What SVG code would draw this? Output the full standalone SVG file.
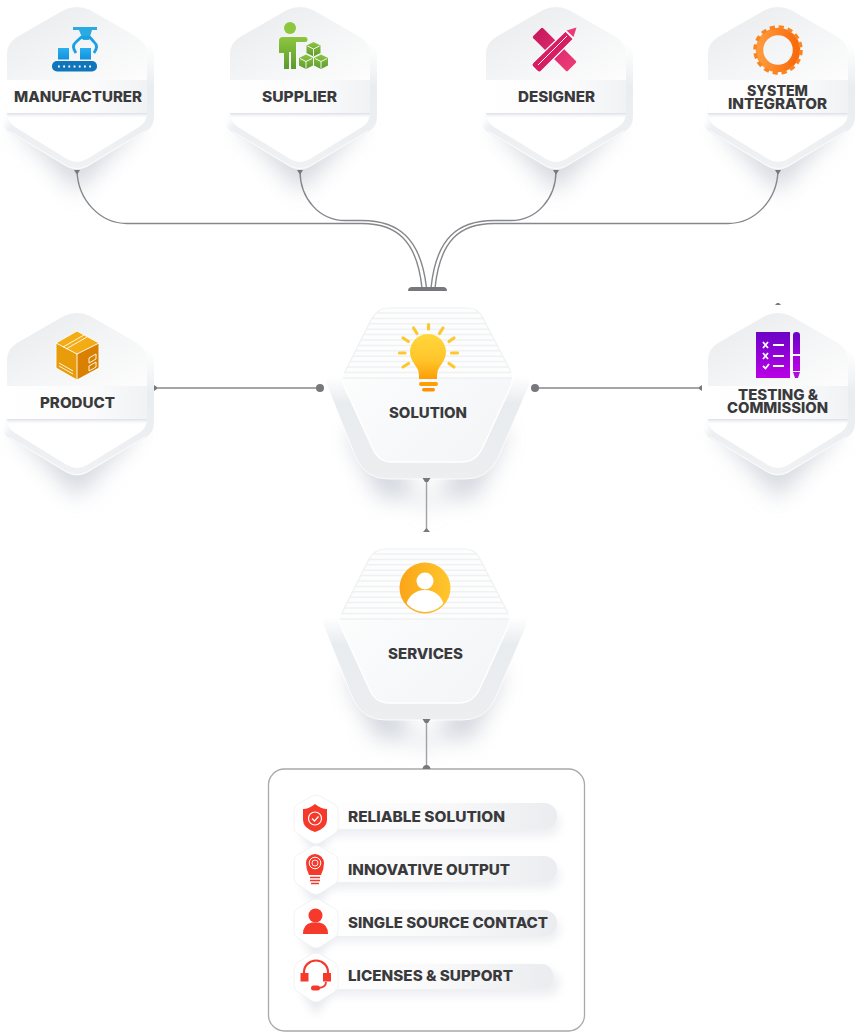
<svg xmlns="http://www.w3.org/2000/svg" xmlns:xlink="http://www.w3.org/1999/xlink" width="855" height="1032" viewBox="0 0 855 1032">
<style>
.t{font-family:"Inter","Liberation Sans",sans-serif;font-weight:800;font-size:14.3px;fill:#3a3a3c;text-anchor:start}
.c{fill:none;stroke:#85878a;stroke-width:1.4}
.d{fill:#77787b}
.red{fill:#f5392b}
.rl{fill:none;stroke:#f5392b}
.stripe{stroke:#f0f1f3;stroke-width:1.5}
</style>
<defs>
<filter id="b10" x="-50%" y="-50%" width="200%" height="200%"><feGaussianBlur stdDeviation="11"/></filter>
<filter id="b5" x="-50%" y="-50%" width="200%" height="200%"><feGaussianBlur stdDeviation="5"/></filter>
<filter id="b3" x="-100%" y="-100%" width="300%" height="300%"><feGaussianBlur stdDeviation="3"/></filter>
<linearGradient id="rim" x1="0" y1="0" x2="0" y2="1"><stop offset=".22" stop-color="#fff"/><stop offset=".5" stop-color="#eaedf0"/><stop offset="1" stop-color="#eff1f3"/></linearGradient>
<linearGradient id="rimB" x1="0" y1="0" x2="0" y2="1"><stop offset=".4" stop-color="#fff"/><stop offset=".56" stop-color="#e9ecef"/><stop offset="1" stop-color="#eceef0"/></linearGradient>
<linearGradient id="topf" x1="0" y1="0" x2="1" y2="1"><stop offset="0" stop-color="#e6e9eb"/><stop offset=".55" stop-color="#f4f5f6"/><stop offset="1" stop-color="#fdfdfd"/></linearGradient>
<linearGradient id="band" x1="0" y1="0" x2="1" y2="0"><stop offset="0" stop-color="#fff"/><stop offset=".6" stop-color="#fbfbfc"/><stop offset="1" stop-color="#f0f2f4"/></linearGradient>
<linearGradient id="under" x1="0" y1="0" x2="0" y2="1"><stop offset="0" stop-color="#dcdee6"/><stop offset="1" stop-color="#fff" stop-opacity="0"/></linearGradient>
<linearGradient id="face" x1="0" y1="0" x2="1" y2="1"><stop offset="0" stop-color="#fff"/><stop offset="1" stop-color="#f2f4f6"/></linearGradient>
<linearGradient id="bar" x1="0" y1="0" x2="1" y2="0"><stop offset="0" stop-color="#fff"/><stop offset=".5" stop-color="#f9f9fa"/><stop offset="1" stop-color="#eaecef"/></linearGradient>
<linearGradient id="blue" x1="0" y1="0" x2="0" y2="1"><stop offset="0" stop-color="#29b0f0"/><stop offset="1" stop-color="#1590dc"/></linearGradient>
<linearGradient id="green" x1="0" y1="0" x2="0" y2="1"><stop offset="0" stop-color="#8dc63f"/><stop offset="1" stop-color="#5c9a2f"/></linearGradient>
<linearGradient id="pink" x1="0" y1="0" x2="1" y2="0"><stop offset="0" stop-color="#c9195f"/><stop offset="1" stop-color="#ec3a78"/></linearGradient>
<linearGradient id="org" x1="0" y1="0" x2="1" y2="0"><stop offset="0" stop-color="#ff9a3c"/><stop offset="1" stop-color="#f96a0c"/></linearGradient>
<linearGradient id="purp" x1="0" y1="0" x2="0" y2="1"><stop offset="0" stop-color="#6a04c6"/><stop offset="1" stop-color="#bb00e6"/></linearGradient>
<linearGradient id="bulb" x1="0" y1="0" x2="0" y2="1"><stop offset="0" stop-color="#ffd83c"/><stop offset=".6" stop-color="#ffc42a"/><stop offset="1" stop-color="#ff9d05"/></linearGradient>
<linearGradient id="svc" x1="0" y1="0" x2="1" y2="0"><stop offset="0" stop-color="#fba518"/><stop offset="1" stop-color="#ffc62c"/></linearGradient>
<clipPath id="hexClip"><path d="M-13,10 Q0,4 13,10 L60,37 Q70,43 70,54 L70,113 Q70,122 62,127 L10,159 Q0,165 -10,159 L-62,127 Q-70,122 -70,113 L-70,54 Q-70,43 -60,37 Z"/></clipPath>
<clipPath id="bigClip"><path d="M388,308 L468,308 Q478,308 483,318 L511,372 Q514,380 510,388 L483,447 Q476,462 462,462 L392,462 Q378,462 372,447 L345,388 Q341,380 344,372 L372,318 Q378,308 388,308 Z"/></clipPath>
<clipPath id="svcClip"><circle cx="425" cy="588" r="24"/></clipPath>
<g id="hexS">
<path d="M-60,128 L0,192 L60,128 L50,110 L-50,110 Z" fill="#c3c8d2" opacity=".7" filter="url(#b10)"/>
<path d="M0,7 L69,42 Q77,47 77,56 L77,117 Q77,127 68,132 L10,167 Q0,172 -10,167 L-67,133 Q-75,128 -75,120 L-70,108 L-70,50 Z" fill="url(#rim)"/>
<ellipse cx="-76" cy="115" rx="9" ry="14" fill="#fff" filter="url(#b3)"/>
<g clip-path="url(#hexClip)">
<rect x="-70" y="5" width="140" height="75" fill="url(#topf)"/>
<rect x="-70" y="80" width="140" height="33" fill="url(#band)"/>
<rect x="-70" y="113" width="140" height="55" fill="#fff"/>
<rect x="-70" y="113" width="140" height="6" fill="url(#under)"/>
</g>
<path d="M-68,131 L-10,166 Q0,171 10,166 L68,131" fill="none" stroke="#fff" stroke-width=".8"/>
</g>
<g id="hexB">
<path d="M365,410 L428,512 L490,410 L505,440 L475,498 L380,498 L350,440 Z" fill="#c3c8d2" opacity=".75" filter="url(#b10)"/>
<path d="M384,307 L472,307 Q483,307 490,318 L527,372 Q532,380 528,388 L498,458 Q488,479 466,479 L388,479 Q366,479 356,458 L328,388 Q324,380 328,372 L365,318 Q372,307 384,307 Z" fill="url(#rimB)" stroke="#fff" stroke-width=".8"/>
<path d="M388,308 L468,308 Q478,308 483,318 L511,372 Q514,380 510,388 L483,447 Q476,462 462,462 L392,462 Q378,462 372,447 L345,388 Q341,380 344,372 L372,318 Q378,308 388,308 Z" fill="url(#face)" stroke="#fff" stroke-width="1.4"/>
<g clip-path="url(#bigClip)">
<rect x="340" y="308" width="180" height="70" fill="#fdfdfd"/>
<path class="stripe" d="M340,313H520M340,318.400H520M340,323.800H520M340,329.200H520M340,334.600H520M340,340H520M340,345.400H520M340,350.800H520M340,356.200H520M340,361.600H520M340,367H520M340,372.400H520M340,378H520"/>
</g>
<path d="M345,372 L372,318 Q378,308 388,308 L468,308 Q478,308 483,318 L511,372" fill="none" stroke="#eef0f2" stroke-width="1.2"/>
</g>
<g id="hexM">
<path d="M-16,12 L0,38 L18,12 Z" fill="#c9cdd6" opacity=".45" filter="url(#b5)"/>
<path d="M-4,-23 Q0,-25 4,-23 L18,-15 Q22,-13 22,-8 L22,9 Q22,13 18,15 L4,24 Q0,26 -4,24 L-18,15 Q-22,13 -22,9 L-22,-8 Q-22,-13 -18,-15 Z" fill="#fff" stroke="#f2f3f5" stroke-width="1"/>
</g>
<g id="cube"><path d="M0,-7 L7,-3.500 L7,4 L0,7.500 L-7,4 L-7,-3.500 Z" fill="url(#green)"/><path d="M-6,-3 L0,0 L6,-3 M0,0 L0,7" fill="none" stroke="#fff" stroke-width=".9"/></g>
</defs>

<g id="panel-box"><rect x="268.500" y="769" width="316" height="262" rx="16" fill="#fff" stroke="#a7a9ac" stroke-width="1.3"/></g>

<g id="node-manufacturer">
<use xlink:href="#hexS" href="#hexS" x="77"/>
<rect x="73" y="27" width="24" height="3" fill="#29abe2"/>
<path d="M79,30 H92 L89,40 H83 Z" fill="#29abe2"/>
<path d="M76,53 Q71,46 76,42 L81,37.500 H90 L94,42 Q99,46 94,53" fill="none" stroke="#1c9fe5" stroke-width="2.800"/>
<rect x="58" y="48" width="11" height="11.500" fill="url(#blue)"/><rect x="80" y="48" width="11" height="11.500" fill="url(#blue)"/>
<rect x="52" y="61" width="45" height="10.500" rx="5" fill="#0f76bc"/>
<path d="M58,66.500H92" stroke="#fff" stroke-width="1.800" stroke-dasharray="1.800 3.400"/>
<text class="t" x="14" y="102" textLength="128" lengthAdjust="spacingAndGlyphs">MANUFACTURER</text>
</g>
<g id="node-supplier">
<use xlink:href="#hexS" href="#hexS" x="300"/>
<circle cx="290" cy="28" r="6" fill="#8dc63f"/>
<path d="M283,37 H305 Q307.500,37 307.500,39.500 Q307.500,42 305,42 H296 V69 H291 V52 H289 V69 H284 V53 H279 V41 Q279,37 283,37 Z" fill="url(#green)"/>
<use xlink:href="#cube" href="#cube" x="313.500" y="49"/><use xlink:href="#cube" href="#cube" x="306" y="61.500"/><use xlink:href="#cube" href="#cube" x="321" y="61.500"/>
<text class="t" x="262" y="102" textLength="75" lengthAdjust="spacingAndGlyphs">SUPPLIER</text>
</g>
<g id="node-designer">
<use xlink:href="#hexS" href="#hexS" x="556"/>
<rect x="530" y="42.500" width="49" height="14" rx="1.500" transform="rotate(45 554.500 49.500)" fill="url(#pink)"/>
<path d="M576.500,27.500 L573.500,37 L566.500,30.500 Z" fill="#ec3a78"/>
<path d="M565.500,31 L573.500,39 L541,71.500 Q539,73 537,71 L532.500,66.500 Q531,64.500 533,62.500 Z" fill="#d81e63" stroke="#fff" stroke-width="1.200"/>
<path d="M538,65 L567,36" stroke="#fff" stroke-width="1"/>
<text class="t" x="518" y="102" textLength="77" lengthAdjust="spacingAndGlyphs">DESIGNER</text>
</g>
<g id="node-system-integrator">
<use xlink:href="#hexS" href="#hexS" x="778"/>
<circle cx="778" cy="50" r="18.500" fill="none" stroke="url(#org)" stroke-width="7.500"/>
<circle cx="778" cy="50" r="23" fill="none" stroke="#f98522" stroke-width="3.500" stroke-dasharray="5.200 3.832"/>
<text class="t" x="747" y="96" textLength="61" lengthAdjust="spacingAndGlyphs">SYSTEM</text>
<text class="t" x="728" y="109" textLength="99" lengthAdjust="spacingAndGlyphs">INTEGRATOR</text>
</g>
<g id="node-product">
<use xlink:href="#hexS" href="#hexS" x="77" y="306"/>
<path d="M77,331 L99,343 L77,354 L56,343 Z" fill="#f4ac14"/>
<path d="M56,343 L77,354 V380 L56,368 Z" fill="#e89c0a"/>
<path d="M99,343 L77,354 V380 L99,368 Z" fill="#d98000"/>
<path d="M77,331 L99,343 L99,368 L77,380 L56,368 L56,343 Z M56,343 L77,354 L99,343 M77,354 V380" fill="none" stroke="#fff" stroke-width=".9"/>
<path d="M63,347 L84,335 M66,349 L87,337 M59,363 L73,371 M59,366 L73,374" fill="none" stroke="#fff" stroke-width=".9"/>
<path d="M89,358 L96,354 V359 L89,363 Z M89,366 L96,362 V367 L89,371 Z" fill="none" stroke="#fff" stroke-width=".9"/>
<text class="t" x="40" y="408" textLength="75" lengthAdjust="spacingAndGlyphs">PRODUCT</text>
</g>
<g id="node-testing-commission">
<use xlink:href="#hexS" href="#hexS" x="778" y="306"/>
<rect x="756" y="332" width="34" height="46" fill="url(#purp)"/>
<path d="M763,342 L768,348 M768,342 L763,348 M763,353 L768,359 M768,353 L763,359 M763,366 L765.500,368.500 L769,364" fill="none" stroke="#fff" stroke-width="1.800"/>
<path d="M773,345H784M773,356H784M773,366H784" stroke="#fff" stroke-width="1.800"/>
<path d="M793,335 Q793,332 796.500,332 Q800,332 800,335 V354 H793 Z M793,356 H800 V371 H793 Z" fill="url(#purp)"/>
<path d="M793,372 H800 L798,378 H795 Z" fill="#a90fd8"/>
<text class="t" x="738" y="400" textLength="80" lengthAdjust="spacingAndGlyphs">TESTING &amp;</text>
<text class="t" x="727" y="412.500" textLength="101" lengthAdjust="spacingAndGlyphs">COMMISSION</text>
</g>
<g id="node-solution">
<use xlink:href="#hexB" href="#hexB"/>
<path d="M428,334 C418,334 410,342 410,352 C410,359 414,363 417,368 C419,371 419,375 419,379 H437 C437,375 437,371 439,368 C442,363 446,359 446,352 C446,342 438,334 428,334 Z" fill="url(#bulb)"/>
<rect x="419" y="382" width="19" height="4" rx="2" fill="#ff9d05"/><rect x="422" y="388" width="13" height="3.500" rx="1.700" fill="#ff9100"/>
<path d="M428.500,324.500V329M413.500,328L417,333.500M443,328L439.500,333.500M403,338L408.500,341.500M454,338L449,341.500M399.500,353H405M451.500,353H457.500M403,367L408.500,363.500M454,367L449,363.500" stroke="#fdc82f" stroke-width="3.200" stroke-linecap="round" fill="none"/>
<text class="t" x="389" y="418" textLength="78" lengthAdjust="spacingAndGlyphs">SOLUTION</text>
</g>
<g id="node-services">
<use xlink:href="#hexB" href="#hexB" x="-3" y="241"/>
<circle cx="425" cy="588" r="25.500" fill="url(#svc)"/>
<g clip-path="url(#svcClip)"><circle cx="425" cy="581" r="8.500" fill="#fff"/><ellipse cx="425" cy="608" rx="19" ry="18" fill="#fff"/></g>
<text class="t" x="388" y="659" textLength="75" lengthAdjust="spacingAndGlyphs">SERVICES</text>
</g>

<g id="item-reliable">
<rect x="320" y="810" width="240" height="26" rx="13" fill="#d4d7de" opacity=".4" filter="url(#b5)"/>
<path d="M316,803 H544 A13,13 0 0 1 544,829 H316 Z" fill="url(#bar)"/>
<use xlink:href="#hexM" href="#hexM" x="316" y="819"/>
<path d="M315,804 Q321,809 327,809 V820 Q327,828 315,832 Q303,828 303,820 V809 Q309,809 315,804 Z" class="red"/>
<circle cx="315" cy="818.500" r="6.500" fill="none" stroke="#fff" stroke-width="1.200"/>
<path d="M312,818.500 L314.500,821 L318.500,816.500" fill="none" stroke="#fff" stroke-width="1.300"/>
<text class="t" x="348" y="822" textLength="157" lengthAdjust="spacingAndGlyphs">RELIABLE SOLUTION</text>
</g>
<g id="item-innovative">
<rect x="320" y="863" width="240" height="26" rx="13" fill="#d4d7de" opacity=".4" filter="url(#b5)"/>
<path d="M316,856 H544 A13,13 0 0 1 544,882 H316 Z" fill="url(#bar)"/>
<use xlink:href="#hexM" href="#hexM" x="316" y="869.500"/>
<path d="M309,875 Q306,869 306,863 A9,9 0 1 1 324,863 Q324,869 321,875 Z" class="red"/>
<circle cx="315" cy="863" r="5.800" fill="none" stroke="#fff" stroke-width="1"/><circle cx="315" cy="863" r="3" fill="none" stroke="#fff" stroke-width=".9"/>
<path d="M310,877.500H320M310,880.500H320M311,883.500H319" stroke="#f5392b" stroke-width="1.500"/>
<text class="t" x="348" y="875" textLength="162" lengthAdjust="spacingAndGlyphs">INNOVATIVE OUTPUT</text>
</g>
<g id="item-single">
<rect x="320" y="916" width="240" height="26" rx="13" fill="#d4d7de" opacity=".4" filter="url(#b5)"/>
<path d="M316,910 H544 A13,13 0 0 1 544,936 H316 Z" fill="url(#bar)"/>
<use xlink:href="#hexM" href="#hexM" x="316" y="923"/>
<circle cx="315.500" cy="915.500" r="7" class="red"/>
<path d="M303,934 Q303,924 312,922.500 H319 Q328,924 328,934 Z" class="red"/>
<text class="t" x="348" y="928" textLength="200" lengthAdjust="spacingAndGlyphs">SINGLE SOURCE CONTACT</text>
</g>
<g id="item-licenses">
<rect x="320" y="970" width="240" height="26" rx="13" fill="#d4d7de" opacity=".4" filter="url(#b5)"/>
<path d="M316,964 H544 A13,13 0 0 1 544,989 H316 Z" fill="url(#bar)"/>
<use xlink:href="#hexM" href="#hexM" x="316" y="977"/>
<path d="M304,974 V972 A12,11.500 0 0 1 328,972 V974" class="rl" stroke-width="2.200"/>
<rect x="300.500" y="973" width="8" height="8.500" class="red"/><rect x="323" y="973" width="8" height="8.500" class="red"/>
<path d="M326,982 Q326,987 319,988" class="rl" stroke-width="1.800"/>
<rect x="311" y="985.500" width="9" height="5" rx="2.500" class="red"/>
<text class="t" x="348" y="981" textLength="165" lengthAdjust="spacingAndGlyphs">LICENSES &amp; SUPPORT</text>
</g>

<g id="connectors">
<path class="c" d="M77,171 C78,200 100,223.500 127,223.500 H362 C396,223.500 417,240 422,288"/>
<path class="c" d="M300,171 C300,198 319,220.500 345,220.500 H362 C398,220.500 421,238 426.500,288"/>
<path class="c" d="M556,171 C556,198 537,220.500 511,220.500 H494 C458,220.500 436,238 431,288"/>
<path class="c" d="M778,171 C777,200 755,223.500 728,223.500 H494 C460,223.500 440,240 435,288"/>
<path class="d" d="M408,291 Q408,287 412,287 H443 Q447,287 447,291 Z"/>
<path class="d" d="M74,170H80L77.500,174H76.500ZM297,170H303L300.500,174H299.500ZM553,170H559L556.500,174H555.500ZM775,170H781L778.500,174H777.500Z"/>
<path class="c" d="M155,388H320"/><circle class="d" cx="320" cy="388" r="4"/><path class="d" d="M154,385L157,387V389L154,391Z"/>
<path class="c" d="M535,388H700"/><circle class="d" cx="535" cy="388" r="4"/><path class="d" d="M702,385L699,387V389L702,391Z"/>
<path class="c" style="stroke:#a0a2a4" d="M426.500,479V530"/><path class="d" d="M422.500,478H430.500L428,482H425ZM423,532L426.500,528L430,532Z"/>
<path class="c" style="stroke:#a0a2a4" d="M426.500,720V767"/><path class="d" d="M422.500,719H430.500L428,723H425ZM422.500,769Q423,765 426.500,765Q430,765 430.500,769Z"/>
<path class="d" d="M775,305L777,303H779L781,305Z"/>
</g>
</svg>
